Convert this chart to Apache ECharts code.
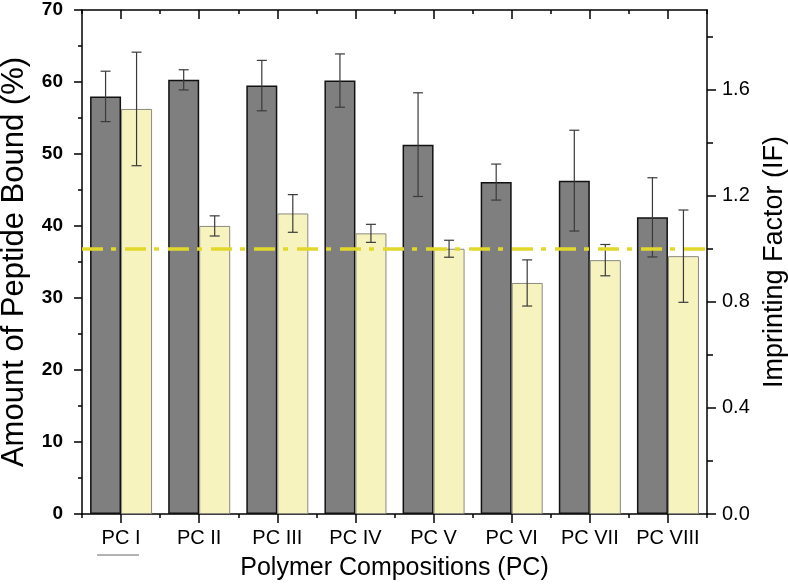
<!DOCTYPE html>
<html><head><meta charset="utf-8">
<script src="https://cdn.jsdelivr.net/npm/echarts@6/dist/echarts.min.js"></script>
<style>html,body{margin:0;padding:0;background:#fff}#c{width:788px;height:588px}</style>
</head><body><div id="c"></div>
<script>
const categories = ['PC I','PC II','PC III','PC IV','PC V','PC VI','PC VII','PC VIII'];
const boundValues = [58.0, 60.3, 59.5, 60.2, 51.3, 46.1, 46.3, 41.2];
const boundErrors = [3.5, 1.4, 3.5, 3.7, 7.2, 2.5, 7.0, 5.5];
const ifValues = [1.527, 1.086, 1.133, 1.058, 1.0, 0.871, 0.957, 0.972];
const ifErrors = [0.214, 0.038, 0.071, 0.034, 0.032, 0.087, 0.059, 0.174];
const referenceIF = 1.0;
const rightMajorTicks = [0, 0.4, 0.8, 1.2, 1.6];
const rightMinorTicks = [0.2, 0.6, 1.0, 1.4, 1.8];

const FONT = '"Liberation Sans", Arial, sans-serif';
const AX = {lineStyle: {color: '#000', width: 1.5}};
const chart = echarts.init(document.getElementById('c'), null, {renderer: 'canvas'});

function errRender(offset) {
  return function (params, api) {
    const i = api.value(0), v = api.value(1), e = api.value(2);
    const top = api.coord([i, v + e]);
    const bot = api.coord([i, v - e]);
    const x = top[0] + offset;
    const cap = 5;
    const st = {stroke: '#3a3a3a', lineWidth: 1.2};
    return {type: 'group', children: [
      {type: 'line', shape: {x1: x, y1: top[1], x2: x, y2: bot[1]}, style: st},
      {type: 'line', shape: {x1: x - cap, y1: top[1], x2: x + cap, y2: top[1]}, style: st},
      {type: 'line', shape: {x1: x - cap, y1: bot[1], x2: x + cap, y2: bot[1]}, style: st}
    ]};
  };
}

chart.setOption({
  animation: false,
  textStyle: {fontFamily: FONT},
  grid: {left: 82, right: 81, top: 10, bottom: 74, containLabel: false, outerBoundsMode: 'none'},
  xAxis: [
    {type: 'category', data: categories, position: 'bottom',
     axisLine: {show: true, ...AX}, axisTick: {show: false},
     axisLabel: {fontSize: 20, color: '#000', margin: 14, fontFamily: FONT, interval: 0},
     name: 'Polymer Compositions (PC)', nameLocation: 'middle', nameGap: 42,
     nameTextStyle: {fontSize: 25, color: '#000', fontFamily: FONT}},
    {type: 'value', min: 0, max: 8, interval: 1, position: 'bottom',
     axisLine: {show: false}, axisTick: {show: true, length: 4, lineStyle: {color: '#000', width: 1.5}},
     minorTick: {show: true, splitNumber: 2, length: 9, lineStyle: {color: '#000', width: 1.5}},
     axisLabel: {show: false}, splitLine: {show: false}},
    {type: 'value', min: 0, max: 8, interval: 1, position: 'top',
     axisLine: {show: true, onZero: false, ...AX},
     axisTick: {show: true, inside: true, length: 4, lineStyle: {color: '#000', width: 1.5}},
     minorTick: {show: true, splitNumber: 2, length: 9, lineStyle: {color: '#000', width: 1.5}},
     axisLabel: {show: false}, splitLine: {show: false}}
  ],
  yAxis: [
    {type: 'value', min: 0, max: 70, interval: 10, position: 'left',
     axisLine: {show: true, onZero: false, ...AX},
     axisTick: {show: true, length: 8, lineStyle: {color: '#000', width: 1.5}},
     minorTick: {show: true, splitNumber: 2, length: 4, lineStyle: {color: '#000', width: 1.5}},
     axisLabel: {fontSize: 19, fontWeight: 'bold', color: '#000', margin: 19, fontFamily: FONT},
     splitLine: {show: false},
     name: 'Amount of Peptide Bound (%)', nameLocation: 'middle', nameGap: 52,
     nameTextStyle: {fontSize: 31, color: '#000', fontFamily: FONT}},
    {type: 'value', min: 0, max: 1.9, position: 'right',
     axisLine: {show: true, onZero: false, ...AX},
     axisTick: {show: true, length: 9, customValues: rightMajorTicks, lineStyle: {color: '#000', width: 1.5}},
     axisLabel: {fontSize: 20, color: '#000', margin: 15, fontFamily: FONT, customValues: rightMajorTicks,
       formatter: v => v.toFixed(1)},
     splitLine: {show: false},
     name: 'Imprinting Factor (IF)', nameLocation: 'middle', nameGap: 53,
     nameTextStyle: {fontSize: 27, color: '#000', fontFamily: FONT}},
    {type: 'value', min: 0, max: 1.9, position: 'right',
     axisLine: {show: false, onZero: false},
     axisTick: {show: true, length: 6, customValues: rightMinorTicks, lineStyle: {color: '#000', width: 1.5}},
     axisLabel: {show: false}, splitLine: {show: false}}
  ],
  series: [
    {type: 'bar', name: 'Bound', xAxisIndex: 0, yAxisIndex: 0, data: boundValues,
     barWidth: 31, barGap: '0%',
     itemStyle: {color: '#7f7f7f', borderColor: '#111', borderWidth: 1.5}},
    {type: 'bar', name: 'IF', xAxisIndex: 0, yAxisIndex: 1, data: ifValues,
     barWidth: 31, barGap: '0%',
     itemStyle: {color: '#f7f3bf', borderColor: '#8a8a80', borderWidth: 1},
     markLine: {silent: true, symbol: 'none', z: 10, label: {show: false},
       lineStyle: {color: '#e2d82c', width: 3.5, type: [21, 8, 5, 9]},
       data: [{yAxis: referenceIF}]}},
    {type: 'custom', xAxisIndex: 0, yAxisIndex: 0, z: 6,
     data: boundValues.map((v, i) => [i, v, boundErrors[i]]),
     encode: {x: 0, y: 1}, renderItem: errRender(-15.5)},
    {type: 'custom', xAxisIndex: 0, yAxisIndex: 1, z: 6,
     data: ifValues.map((v, i) => [i, v, ifErrors[i]]),
     encode: {x: 0, y: 1}, renderItem: errRender(15.5)}
  ],
  graphic: [
    {type: 'line', shape: {x1: 97, y1: 555, x2: 139, y2: 555}, style: {stroke: '#666', lineWidth: 1}}
  ]
});
</script></body></html>
